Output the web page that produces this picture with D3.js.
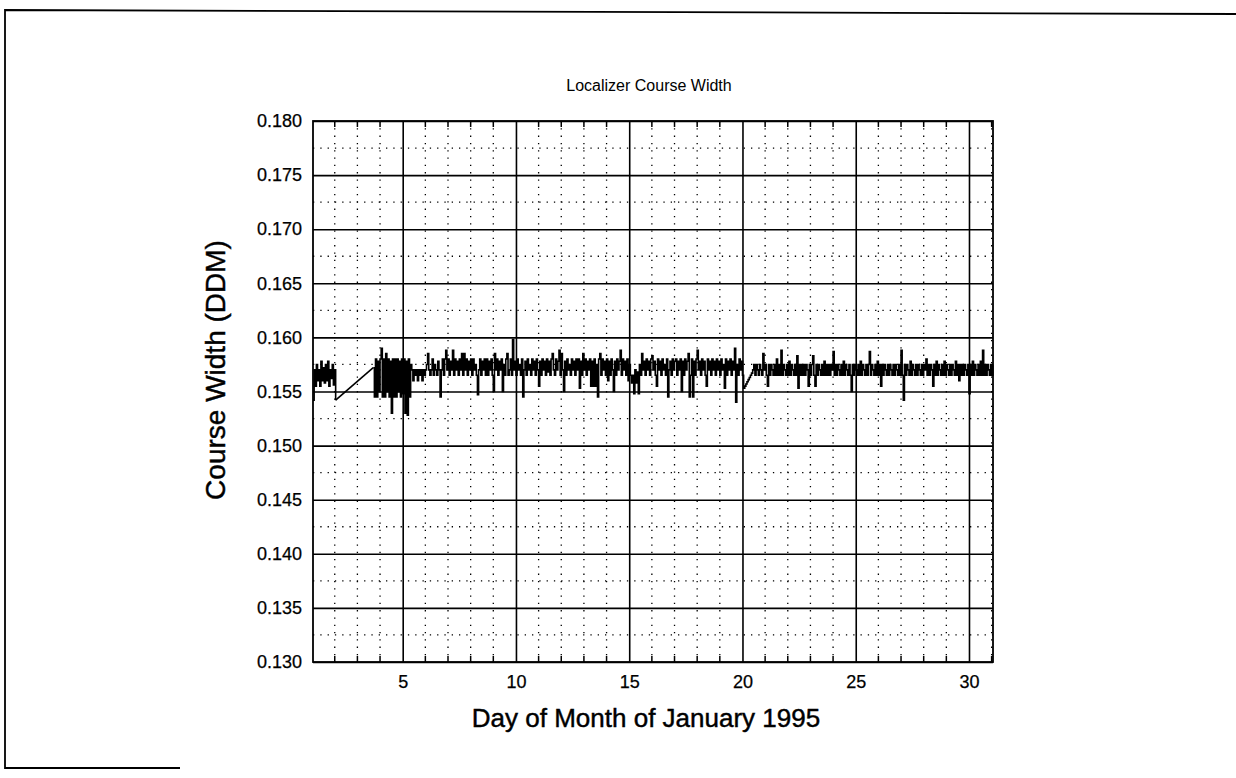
<!DOCTYPE html>
<meta charset="utf-8">
<style>
body {
  margin: 0;
  background-color: #fff;
}
svg {
  display: block;
  font-family: "Liberation Sans", Arial, sans-serif;
}
.grid-major line {
  stroke: #000;
  stroke-width: 1.6px;
}
.grid-minor line {
  stroke: #000;
  stroke-width: 1.3px;
  stroke-dasharray: 1.3,6;
}
.minor-tick {
  stroke: #000;
  stroke-width: 1.5px;
}
.frame {
  fill: none;
  stroke: #000;
  stroke-width: 1.8px;
}
.plot-border {
  fill: none;
  stroke: #000;
  stroke-width: 1.8px;
}
.trace {
  fill: none;
  stroke: #000;
  stroke-width: 1.6px;
}
.axis text {
  font-size: 18px;
  fill: #000;
  stroke: #000;
  stroke-width: 0.25px;
}
.axis path { display: none; }
.label {
  fill: #000;
  stroke: #000;
  stroke-width: 0.45px;
}
</style>
<body>
<svg width="1236" height="778"></svg>

<script src="https://d3js.org/d3.v7.min.js"></script>
<script>

// ---- data (course width in DDM) ----
var titleText = "Localizer Course Width";
var xLabel = "Day of Month of January 1995";
var yLabel = "Course Width (DDM)";

var dayTicks = [5, 10, 15, 20, 25, 30];
var widthTicks = [0.130, 0.135, 0.140, 0.145, 0.150, 0.155, 0.160, 0.165, 0.170, 0.175, 0.180];
var dayDomain = [1.04, 31.06];

var sampleStep = 0.05; // days between samples

// first block of readings, day 1.04 .. 2.04
var startA = 1.04;
var widthA = [.1542,.157,.1555,.1575,.156,.157,.1555,.1578,.156,.1572,.1558,.1575,.156,.1578,.1555,.157,.1562,.1575,.1556,.157,.1542];

// readings resume at day 3.70 and run to the end of the month
var startB = 3.70;
var widthB = [
  .1572,.1545,.158,.1545,.1578,.155,.158,.159,.1545,.158,.1545,.1585,.155,.158,.1545,.1578,.153,.158,.1545,.158,
  .1545,.158,.155,.1578,.1545,.158,.1548,.158,.153,.1578,.1528,.158,.1545,.1575,.157,.156,.157,.1565,.157,.156,
  .157,.1565,.157,.156,.157,.1565,.157,.1575,.1585,.157,.1565,.157,.158,.1565,.1575,.157,.1565,.1578,.157,.1545,
  .157,.158,.1565,.158,.1588,.157,.158,.1565,.1578,.157,.1588,.1565,.158,.157,.1578,.1565,.158,.157,.1585,.1565,
  .1585,.157,.158,.1565,.1578,.157,.158,.1565,.158,.157,.1575,.1565,.1547,.157,.158,.1565,.1578,.157,.158,.1565,
  .158,.1565,.1578,.157,.158,.1565,.155,.1585,.157,.158,.1565,.1578,.157,.158,.155,.1575,.1565,.158,.1585,.1565,
  .157,.158,.1565,.1598,.157,.1578,.1565,.158,.157,.1575,.1565,.158,.1545,.157,.1578,.1565,.158,.157,.1575,.1565,
  .158,.157,.1578,.1565,.158,.157,.1555,.1578,.1565,.158,.157,.1578,.1565,.158,.1568,.1578,.1565,.158,.1585,.157,
  .1565,.158,.157,.1578,.1588,.1565,.1585,.157,.155,.1578,.1565,.158,.157,.1575,.1565,.158,.157,.1578,.1565,.158,
  .157,.158,.1553,.1578,.1565,.1585,.157,.158,.1565,.1578,.157,.158,.1555,.1578,.1555,.158,.1555,.1575,.1545,.158,
  .1585,.1565,.158,.157,.1578,.1565,.158,.156,.1578,.1565,.158,.157,.155,.1578,.1565,.158,.157,.1578,.1588,.1565,
  .158,.157,.1578,.1565,.158,.156,.1575,.1565,.1558,.1565,.1548,.157,.1558,.1568,.1548,.1575,.1565,.1585,.157,.1578,
  .1565,.158,.157,.1578,.1565,.158,.1583,.157,.1578,.1565,.1555,.158,.157,.1578,.1565,.158,.157,.1575,.1565,.158,
  .1545,.157,.1578,.1565,.158,.157,.1578,.158,.1565,.1578,.157,.158,.155,.1578,.1565,.158,.157,.1578,.1585,.1545,
  .1565,.158,.1545,.1578,.1565,.158,.1588,.157,.1578,.1565,.158,.157,.1578,.1565,.1555,.158,.157,.1578,.1565,.158,
  .157,.1578,.1565,.158,.157,.1578,.1565,.158,.157,.1575,.1553,.158,.1565,.1578,.157,.158,.1565,.1578,.157,.159,
  .154,.1575,.1565,.158,.157,.1578,.1565,.1553,.1555,.1557,.1559,.1561,.1563,.1565,.1567,.157,.1575,.1565,.1575,.157,
  .1565,.1575,.157,.1565,.1585,.157,.1575,.1565,.1555,.1575,.1565,.1575,.157,.1565,.1575,.1565,.158,.1565,.1575,.1565,
  .1588,.1565,.1575,.157,.1565,.1575,.1565,.1578,.1565,.1575,.157,.1565,.1575,.1565,.1583,.1553,.1575,.1565,.1575,.1565,
  .1575,.1565,.1575,.157,.1555,.1575,.1565,.1575,.1583,.1565,.1555,.1575,.1565,.1575,.157,.1565,.1575,.1565,.1578,.1565,
  .1575,.1565,.1575,.1565,.1575,.157,.1587,.1565,.1575,.1565,.1575,.157,.1565,.1575,.1565,.1578,.1565,.1575,.157,.1565,
  .1575,.1565,.155,.1575,.1565,.1575,.157,.1565,.1575,.1565,.1578,.1565,.1575,.157,.1565,.1575,.1565,.1575,.1587,.1565,
  .1575,.157,.1565,.1575,.1565,.1578,.1565,.1575,.1555,.1575,.1565,.1575,.157,.1565,.1575,.1565,.1575,.157,.1565,.1575,
  .1565,.1575,.157,.1565,.1575,.1565,.1588,.1565,.1542,.1575,.1565,.1575,.157,.1565,.1578,.1565,.1575,.157,.1565,.1575,
  .1565,.1575,.157,.1565,.1575,.1565,.1575,.157,.158,.1565,.1575,.1565,.1575,.157,.1555,.1575,.1565,.1578,.1565,.1575,
  .157,.1565,.1575,.1565,.1578,.1565,.1575,.157,.1565,.1575,.1565,.1575,.157,.1565,.1578,.1565,.1575,.156,.1575,.1565,
  .1575,.1565,.1575,.157,.1565,.1575,.1548,.1575,.1565,.1578,.1565,.1575,.157,.1565,.1575,.1565,.1578,.1565,.1588,.1565,
  .1575,.1565,.1575,.157,.1565,.1575,.1565,.1575
];

// ---- layout ----
var margin = {top: 121, right: 243, bottom: 116, left: 313},
    width = 1236 - margin.left - margin.right,
    height = 778 - margin.top - margin.bottom;

var svg = d3.select("svg");

var x = d3.scaleLinear().domain(dayDomain).range([0, width]);
var y = d3.scaleLinear().domain([0.130, 0.180]).range([height, 0]);

// outer frame of the scanned page
svg.append("path")
  .attr("class", "frame")
  .attr("d", "M1236,14 L5,10 L5,768 L180,768");

svg.append("text")
  .attr("x", 649)
  .attr("y", 91)
  .attr("text-anchor", "middle")
  .style("font-size", "16px")
  .text(titleText);

var g = svg.append("g")
  .attr("transform", "translate(" + margin.left + "," + margin.top + ")");

// dotted minor grid
var minorDays = d3.range(2, 32).filter(function(d) { return d % 5 !== 0 && d < dayDomain[1]; });
var minorWidths = widthTicks.slice(0, -1).map(function(d) { return d + 0.0025; });

var gMinor = g.append("g").attr("class", "grid-minor");
gMinor.selectAll(".vx").data(minorDays).enter()
  .append("line")
  .attr("x1", function(d) { return x(d); })
  .attr("x2", function(d) { return x(d); })
  .attr("y1", 0)
  .attr("y2", height);
gMinor.selectAll(".hy").data(minorWidths).enter()
  .append("line")
  .attr("x1", 0)
  .attr("x2", width)
  .attr("y1", function(d) { return y(d); })
  .attr("y2", function(d) { return y(d); });

// small inward ticks at every day, top and bottom
g.selectAll(".tt").data(minorDays).enter()
  .append("line")
  .attr("class", "minor-tick")
  .attr("x1", function(d) { return x(d); })
  .attr("x2", function(d) { return x(d); })
  .attr("y1", 0)
  .attr("y2", 6);
g.selectAll(".tb").data(minorDays).enter()
  .append("line")
  .attr("class", "minor-tick")
  .attr("x1", function(d) { return x(d); })
  .attr("x2", function(d) { return x(d); })
  .attr("y1", height)
  .attr("y2", height - 6);

// solid major grid
g.append("g")
  .attr("class", "grid-major")
  .attr("transform", "translate(0," + height + ")")
  .call(d3.axisBottom(x).tickValues(dayTicks).tickSize(-height).tickFormat(""))
  .select(".domain").remove();

g.append("g")
  .attr("class", "grid-major")
  .call(d3.axisLeft(y).tickValues(widthTicks).tickSize(-width).tickFormat(""))
  .select(".domain").remove();

// the trace: two sampled stretches drawn as steps, joined straight across the gap
var ptsA = widthA.map(function(v, i) { return {day: startA + i * sampleStep, w: v}; });
var ptsB = widthB.map(function(v, i) { return {day: startB + i * sampleStep, w: v}; });

var stepLine = d3.line()
  .curve(d3.curveStepAfter)
  .x(function(d) { return x(d.day); })
  .y(function(d) { return y(d.w); });

var straight = d3.line()
  .x(function(d) { return x(d.day); })
  .y(function(d) { return y(d.w); });

g.append("path").datum(ptsA).attr("class", "trace").attr("d", stepLine);
g.append("path").datum([ptsA[ptsA.length - 1], ptsB[0]]).attr("class", "trace").attr("d", straight);
g.append("path").datum(ptsB).attr("class", "trace").attr("d", stepLine);

g.append("rect")
  .attr("class", "plot-border")
  .attr("width", width)
  .attr("height", height);

// axes labels
g.append("g")
  .attr("class", "axis")
  .attr("transform", "translate(0," + height + ")")
  .call(d3.axisBottom(x).tickValues(dayTicks).tickSize(0).tickPadding(13));

g.append("g")
  .attr("class", "axis")
  .call(d3.axisLeft(y).tickValues(widthTicks).tickSize(0).tickPadding(11)
    .tickFormat(d3.format(".3f")));

svg.append("text")
  .attr("class", "label")
  .attr("x", 646)
  .attr("y", 727)
  .attr("text-anchor", "middle")
  .style("font-size", "26px")
  .text(xLabel);

svg.append("text")
  .attr("class", "label")
  .attr("transform", "translate(225,370) rotate(-90)")
  .attr("text-anchor", "middle")
  .style("font-size", "28px")
  .text(yLabel);

</script>
</body>
